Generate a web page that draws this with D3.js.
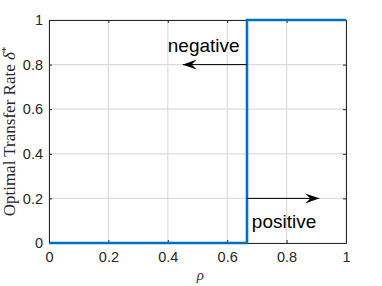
<!DOCTYPE html>
<html lang="en">
<head>
    <meta charset="UTF-8">
    <title>Optimal Transfer Rate</title>
    <script src="https://d3js.org/d3.v7.min.js" charset="utf-8"></script>
    <style>
        body { margin: 0; background: #fff; }
        .note { font-family: "Liberation Sans", Arial, sans-serif; font-size: 19px; fill: #000; }
    </style>
</head>
<body>
    <script>
        var width = 382;
        var height = 286;
        var margin = {top: 20, right: 36, bottom: 43, left: 49};

        // step curve of delta* against rho
        var rhoVals = [0, 2/3, 2/3, 1];
        var deltaVals = [0, 0, 1, 1];
        var xTicks = [0, 0.2, 0.4, 0.6, 0.8, 1];
        var yTicks = [0, 0.2, 0.4, 0.6, 0.8, 1];
        var tickLabels = ["0", "0.2", "0.4", "0.6", "0.8", "1"];

        // annotations: label, arrow start x, arrow end x, arrow y, text x, text y
        var noteLabels = ["negative", "positive"];
        var arrowFrom = [0.667, 0.667];
        var arrowTo = [0.45, 0.91];
        var arrowY = [0.8, 0.2];
        var textX = [0.40, 0.683];
        var textY = [0.857, 0.069];

        var svg = d3.select("body")
            .append("svg")
            .attr("width", width)
            .attr("height", height);

        var w = width - margin.left - margin.right;
        var h = height - margin.top - margin.bottom;

        var x = d3.scaleLinear().domain([0, 1]).range([margin.left, margin.left + w]);
        var y = d3.scaleLinear().domain([0, 1]).range([margin.top + h, margin.top]);

        // grid
        var grid = svg.append("g");
        grid.selectAll(".gx").data(xTicks).enter().append("line")
            .attr("x1", d => x(d)).attr("x2", d => x(d))
            .attr("y1", y(0)).attr("y2", y(1))
            .attr("stroke", "#dcdcdc").attr("stroke-width", 1.2);
        grid.selectAll(".gy").data(yTicks).enter().append("line")
            .attr("y1", d => y(d)).attr("y2", d => y(d))
            .attr("x1", x(0)).attr("x2", x(1))
            .attr("stroke", "#dcdcdc").attr("stroke-width", 1.2);

        // axes, ticks pointing inward, box on all sides
        var fmt = (d, i) => tickLabels[i];
        svg.append("g").attr("transform", "translate(0," + y(0) + ")")
            .call(d3.axisBottom(x).tickValues(xTicks).tickFormat(fmt).tickSizeInner(-3).tickSizeOuter(0).tickPadding(9));
        svg.append("g").attr("transform", "translate(" + x(0) + ",0)")
            .call(d3.axisLeft(y).tickValues(yTicks).tickFormat(fmt).tickSizeInner(-3).tickSizeOuter(0).tickPadding(6));
        svg.append("g").attr("transform", "translate(0," + y(1) + ")")
            .call(d3.axisTop(x).tickValues(xTicks).tickFormat("").tickSizeInner(-3).tickSizeOuter(0));
        svg.append("g").attr("transform", "translate(" + x(1) + ",0)")
            .call(d3.axisRight(y).tickValues(yTicks).tickFormat("").tickSizeInner(-3).tickSizeOuter(0));
        svg.selectAll(".domain, .tick line").attr("stroke", "#262626");
        svg.selectAll(".tick text")
            .style("font-family", "'Liberation Sans', Arial, sans-serif")
            .style("font-size", "14.5px")
            .attr("fill", "#262626");

        // step line
        var line = d3.line().x(d => x(d[0])).y(d => y(d[1]));
        svg.append("path")
            .datum(d3.zip(rhoVals, deltaVals))
            .attr("fill", "none")
            .attr("stroke", "#0072BD")
            .attr("stroke-width", 2.6)
            .attr("d", line);

        // arrows
        svg.append("defs").append("marker")
            .attr("id", "head")
            .attr("viewBox", "-14 -5 14 10")
            .attr("refX", 0).attr("refY", 0)
            .attr("markerWidth", 14).attr("markerHeight", 10)
            .attr("markerUnits", "userSpaceOnUse")
            .attr("orient", "auto")
            .append("path")
            .attr("d", "M0,0 L-14,-5 L-9,0 L-14,5 Z")
            .attr("fill", "#000");

        noteLabels.forEach(function(lab, i) {
            svg.append("line")
                .attr("x1", x(arrowFrom[i])).attr("x2", x(arrowTo[i]))
                .attr("y1", y(arrowY[i])).attr("y2", y(arrowY[i]))
                .attr("stroke", "#000").attr("stroke-width", 1)
                .attr("marker-end", "url(#head)");
            svg.append("text")
                .attr("class", "note")
                .attr("x", x(textX[i])).attr("y", y(textY[i]))
                .text(lab);
        });

        // axis titles
        svg.append("text")
            .attr("x", x(0.51)).attr("y", 280)
            .attr("text-anchor", "middle")
            .style("font-family", "'Liberation Serif', serif")
            .style("font-style", "italic")
            .style("font-size", "15px")
            .attr("fill", "#333")
            .text("ρ");

        var yl = svg.append("text")
            .attr("transform", "translate(15," + y(0.5) + ") rotate(-90)")
            .attr("text-anchor", "middle")
            .style("font-family", "'Liberation Serif', serif")
            .style("font-size", "17px")
            .attr("fill", "#262626");
        yl.append("tspan").text("Optimal Transfer Rate ");
        yl.append("tspan").style("font-style", "italic").text("δ");
        yl.append("tspan").attr("dy", -6).style("font-size", "11px").text("*");
    </script>
</body>
</html>
